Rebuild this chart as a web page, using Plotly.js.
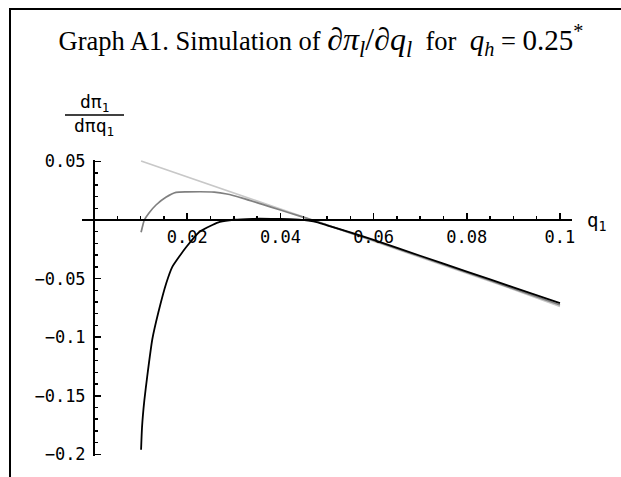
<!DOCTYPE html>
<html>
<head>
<meta charset="utf-8">
<script src="https://cdn.plot.ly/plotly-3.0.1.min.js"></script>
<style>
html,body{margin:0;padding:0;background:#fff;}
#chart{width:621px;height:477px;}
</style>
</head>
<body>
<div id="chart"></div>
<script>
// ---- data ----
const lightX = [0.0101, 0.02, 0.03, 0.04, 0.05, 0.06, 0.07, 0.08, 0.09, 0.1];
const lightY = [0.0503, 0.0368, 0.0232, 0.0096, -0.0042, -0.0178, -0.0315, -0.0452, -0.0592, -0.0738];

const grayX = [0.0101, 0.0105, 0.0108, 0.0118, 0.0133, 0.0155, 0.0176, 0.020, 0.0258, 0.0285, 0.032, 0.036, 0.040, 0.044, 0.048, 0.055, 0.06, 0.07, 0.08, 0.09, 0.1];
const grayY = [-0.0105, -0.004, 0.0, 0.006, 0.0128, 0.0196, 0.0236, 0.0240, 0.0238, 0.0222, 0.0185, 0.0135, 0.0085, 0.0035, -0.0015, -0.0110, -0.0175, -0.0312, -0.0448, -0.0586, -0.0726];

const blackX = [0.0101, 0.0103, 0.0108, 0.0114, 0.0125, 0.0138, 0.0155, 0.0168, 0.0185, 0.0198, 0.0226, 0.0254, 0.027, 0.030, 0.034, 0.038, 0.042, 0.044, 0.046, 0.048, 0.050, 0.055, 0.060, 0.070, 0.080, 0.090, 0.100];
const blackY = [-0.196, -0.177, -0.154, -0.134, -0.102, -0.079, -0.054, -0.040, -0.030, -0.023, -0.0102, -0.0043, -0.0017, 0.0002, 0.0010, 0.0010, 0.0007, 0.0003, -0.0005, -0.002, -0.0045, -0.0105, -0.0170, -0.0305, -0.0440, -0.0575, -0.0710];

const xTickVals = [0.02, 0.04, 0.06, 0.08, 0.1];
const xTickText = ["0.02", "0.04", "0.06", "0.08", "0.1"];
const xMinorTicks = [0.005, 0.01, 0.015, 0.02, 0.025, 0.03, 0.035, 0.04, 0.045, 0.05, 0.055, 0.06, 0.065, 0.07, 0.075, 0.08, 0.085, 0.09, 0.095, 0.1];
const yTickVals = [0.05, -0.05, -0.1, -0.15, -0.2];
const yTickText = ["0.05", "\u22120.05", "\u22120.1", "\u22120.15", "\u22120.2"];
const yMinorTicks = [0.04, 0.03, 0.02, 0.01, -0.01, -0.02, -0.03, -0.04, -0.06, -0.07, -0.08, -0.09, -0.11, -0.12, -0.13, -0.14, -0.16, -0.17, -0.18, -0.19];

// ---- layout geometry ----
const xRange = [-0.00258, 0.10258];
const yRange = [-0.2014, 0.0512];
const xAxisPos = (0 - yRange[0]) / (yRange[1] - yRange[0]);
const yAxisPos = (0 - xRange[0]) / (xRange[1] - xRange[0]);

const mono = "DejaVu Sans Mono, Liberation Mono, monospace";
const serif = "Liberation Serif, Times New Roman, serif";

const traces = [
  {x: lightX, y: lightY, mode: 'lines', line: {color: '#c8c8c8', width: 1.7}, hoverinfo: 'skip'},
  {x: grayX, y: grayY, mode: 'lines', line: {color: '#808080', width: 1.7, shape: 'spline', smoothing: 0.6}, hoverinfo: 'skip'},
  {x: blackX, y: blackY, mode: 'lines', line: {color: '#000000', width: 1.8, shape: 'spline', smoothing: 0.5}, hoverinfo: 'skip'}
];

const W = 621, H = 477, L = 82, R = 49, T = 160, B = 21;
const pw = W - L - R, ph = H - T - B;
const px = v => (v - L) / pw;          // pixel -> paper x
const py = v => (H - B - v) / ph;      // pixel -> paper y

const layout = {
  width: W, height: H,
  margin: {l: L, r: R, t: T, b: B, pad: 0},
  paper_bgcolor: '#fff', plot_bgcolor: '#fff',
  showlegend: false,
  title: {
    text: "Graph A1. Simulation of <span style='font-size:32px'><i>\u2202\u03c0<sub>l</sub></i>/<i>\u2202q<sub>l</sub></i></span>  for  <span style='font-size:29px'><i>q<sub>h</sub></i></span> = <span style='font-size:29px'>0.25<sup>*</sup></span>",
    font: {family: serif, size: 26.5, color: '#000'},
    x: 321 / W, xanchor: 'center', xref: 'container',
    y: 1 - 41 / H, yanchor: 'middle', yref: 'container'
  },
  xaxis: {
    range: xRange, anchor: 'free', position: xAxisPos,
    showgrid: false, zeroline: false,
    showline: true, linecolor: '#000', linewidth: 2,
    tickmode: 'array', tickvals: xTickVals, ticktext: xTickText,
    ticks: 'inside', ticklen: 6, tickwidth: 1.5, tickcolor: '#000',
    minor: {tickmode: 'array', tickvals: xMinorTicks, ticks: 'inside', ticklen: 3, tickwidth: 1.5, tickcolor: '#000'},
    tickfont: {family: mono, size: 17, color: '#000'},
    ticklabelstandoff: 2
  },
  yaxis: {
    range: yRange, anchor: 'free', position: yAxisPos,
    showgrid: false, zeroline: false,
    showline: true, linecolor: '#000', linewidth: 2,
    tickmode: 'array', tickvals: yTickVals, ticktext: yTickText,
    ticks: 'inside', ticklen: 6, tickwidth: 1.5, tickcolor: '#000',
    minor: {tickmode: 'array', tickvals: yMinorTicks, ticks: 'inside', ticklen: 3, tickwidth: 1.5, tickcolor: '#000'},
    tickfont: {family: mono, size: 17, color: '#000'},
    ticklabelstandoff: 4
  },
  annotations: [
    {text: "q<sub>1</sub>", xref: 'paper', yref: 'paper', x: px(585), y: py(221), xanchor: 'left', yanchor: 'middle', showarrow: false, font: {family: mono, size: 19, color: '#000'}},
    {text: "d\u03c0<sub>1</sub>", xref: 'paper', yref: 'paper', x: px(94), y: py(103), xanchor: 'center', yanchor: 'middle', showarrow: false, font: {family: mono, size: 18, color: '#000'}},
    {text: "d\u03c0q<sub>1</sub>", xref: 'paper', yref: 'paper', x: px(94), y: py(127), xanchor: 'center', yanchor: 'middle', showarrow: false, font: {family: mono, size: 18, color: '#000'}}
  ],
  shapes: [
    {type: 'line', xref: 'paper', yref: 'paper', x0: px(65), x1: px(124), y0: py(115), y1: py(115), line: {color: '#000', width: 1.3}},
    {type: 'line', xref: 'paper', yref: 'paper', x0: px(10), x1: px(10), y0: py(8), y1: py(480), line: {color: '#000', width: 2}},
    {type: 'line', xref: 'paper', yref: 'paper', x0: px(9), x1: px(625), y0: py(9), y1: py(9), line: {color: '#000', width: 2}}
  ]
};

Plotly.newPlot('chart', traces, layout, {displayModeBar: false, staticPlot: true});
</script>
</body>
</html>
